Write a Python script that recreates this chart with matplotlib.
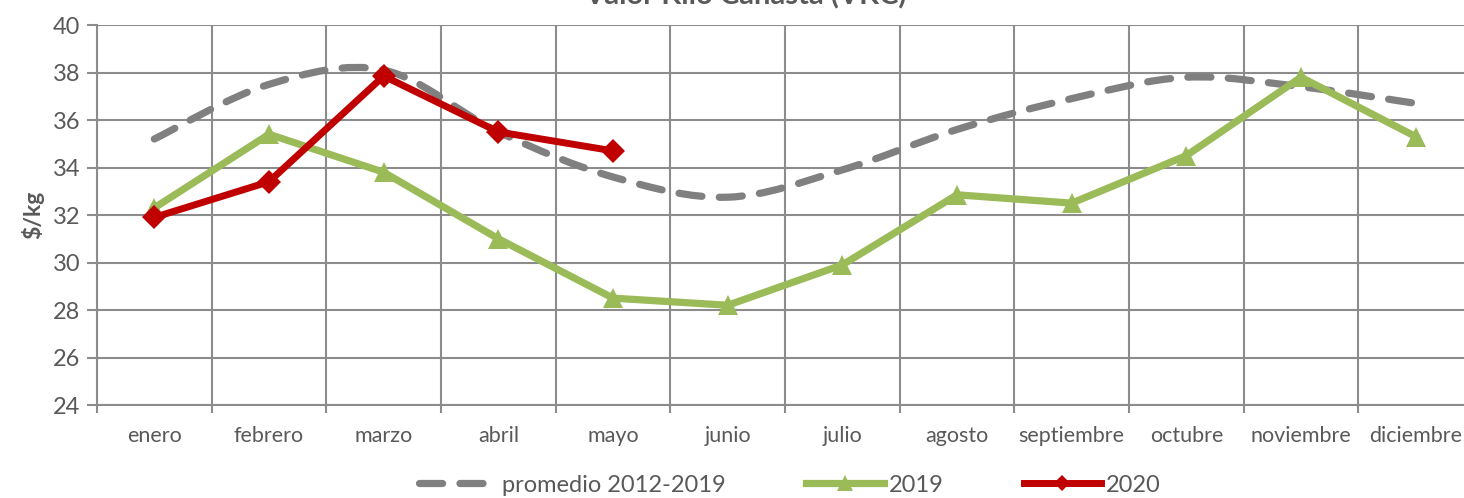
import matplotlib
matplotlib.use("Agg")
import matplotlib.pyplot as plt
from matplotlib.path import Path
from matplotlib.patches import PathPatch
from matplotlib.lines import Line2D
import numpy as np

plt.rcParams['font.family'] = ['Lato', 'DejaVu Sans']

months = ["enero", "febrero", "marzo", "abril", "mayo", "junio", "julio",
          "agosto", "septiembre", "octubre", "noviembre", "diciembre"]
promedio = [35.2, 37.5, 38.1, 35.5, 33.6, 32.75, 33.9, 35.6, 36.9, 37.8, 37.4, 36.7]
y2019 = [32.3, 35.4, 33.8, 31.0, 28.5, 28.2, 29.9, 32.85, 32.5, 34.5, 37.8, 35.3]
y2020 = [31.9, 33.4, 37.85, 35.5, 34.7]
yticks = [24, 26, 28, 30, 32, 34, 36, 38, 40]

title = "Valor Kilo Canasta (VKC)"
ylabel = "$/kg"
labels = ["promedio 2012-2019", "2019", "2020"]

GRAY = "#808080"
GREEN = "#9BBB59"
RED = "#C00000"
TXT = "#595959"
GRID = "#8C8C8C"

W, H = 1464, 498
fig = plt.figure(figsize=(W / 100, H / 100), dpi=100)
ax = fig.add_axes([97 / W, 1 - 405 / H, (1473 - 97) / W, (405 - 25) / H])

x = np.arange(len(months))

# smoothed curve (Excel-style smoothing) for the average series
def smooth_path(xs, ys):
    pts = np.column_stack([xs, ys]).astype(float)
    n = len(pts)
    verts = [pts[0]]
    codes = [Path.MOVETO]
    for i in range(n - 1):
        p0 = pts[i - 1] if i > 0 else pts[i]
        p1 = pts[i]
        p2 = pts[i + 1]
        p3 = pts[i + 2] if i + 2 < n else pts[i + 1]
        c1 = p1 + (p2 - p0) / 6.0
        c2 = p2 - (p3 - p1) / 6.0
        verts += [c1, c2, p2]
        codes += [Path.CURVE4] * 3
    return Path(verts, codes)

DASH = (0, (3.2, 2.4))
patch = PathPatch(smooth_path(x, promedio), facecolor="none", edgecolor=GRAY,
                  linewidth=5.2, linestyle=DASH, capstyle="round", zorder=3)
ax.add_patch(patch)

ax.plot(x, y2019, color=GREEN, linewidth=5.2, marker="^", markersize=15,
        markeredgewidth=0, zorder=4, solid_joinstyle="miter")
ax.plot(x[:len(y2020)], y2020, color=RED, linewidth=5, marker="D", markersize=12,
        markeredgewidth=0, zorder=5, solid_joinstyle="miter")

ax.set_xlim(-0.5, 11.5)
ax.set_ylim(24, 40)
ax.set_yticks(yticks)
ax.set_yticklabels([str(v) for v in yticks], fontsize=17, color=TXT)
ax.set_xticks(x)
ax.set_xticklabels(months, fontsize=15.5, color=TXT)
ax.set_xticks(np.arange(-0.5, 12, 1), minor=True)
ax.tick_params(axis="x", which="major", length=0, pad=15)
ax.tick_params(axis="x", which="minor", length=6, width=1.5, color=GRID, direction="out")
ax.tick_params(axis="y", which="major", length=7, width=1.5, color=GRID, pad=5)
ax.grid(True, axis="y", which="major", color=GRID, linewidth=1.5, zorder=0)
ax.grid(True, axis="x", which="minor", color=GRID, linewidth=1.5, zorder=0)
ax.set_axisbelow(True)
for s in ["top", "right"]:
    ax.spines[s].set_visible(False)
for s in ["left", "bottom"]:
    ax.spines[s].set_color(GRID)
    ax.spines[s].set_linewidth(1.5)

ax.set_ylabel(ylabel, fontsize=16.5, fontweight="bold", color=TXT, labelpad=6)

fig.text(745 / W, 1 - 9 / H, title, ha="center", va="bottom",
         fontsize=21, fontweight="bold", color=TXT)

handles = [
    Line2D([], [], color=GRAY, linewidth=5.2, linestyle=DASH,
           dash_capstyle="round"),
    Line2D([], [], color=GREEN, linewidth=5.2, marker="^", markersize=12,
           markeredgewidth=0),
    Line2D([], [], color=RED, linewidth=5, marker="D", markersize=8,
           markeredgewidth=0),
]
leg = fig.legend(handles, labels, loc="center", bbox_to_anchor=(790 / W, 1 - 485 / H),
                 ncol=3, frameon=False, fontsize=17, handlelength=3.3,
                 handletextpad=0.2, columnspacing=3.4, markerscale=1,
                 borderpad=0, labelcolor=TXT)

fig.savefig("out.png", dpi=100)
